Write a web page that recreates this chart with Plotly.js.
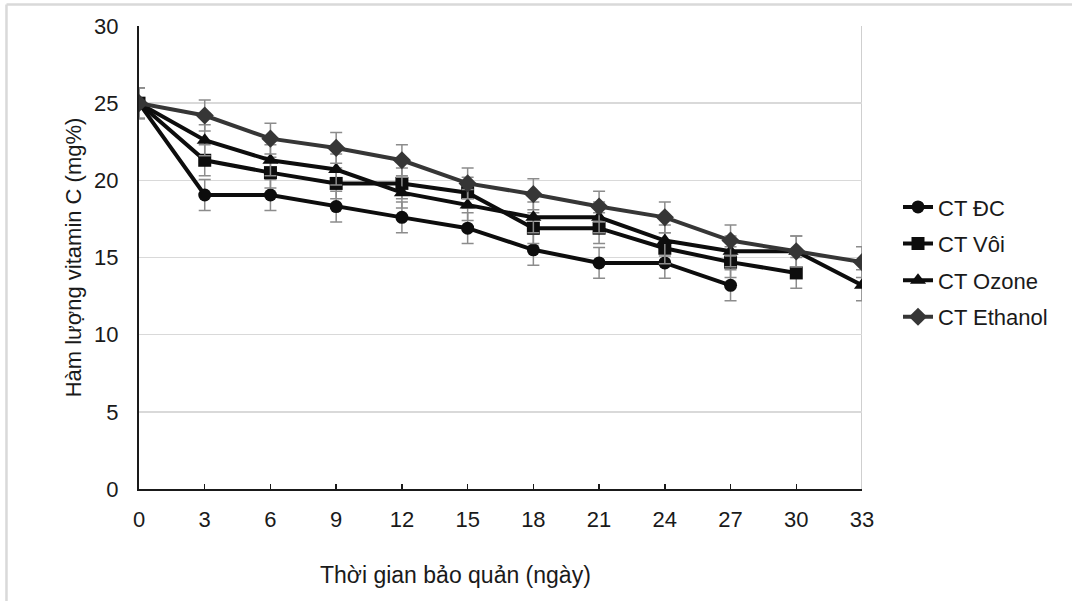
<!DOCTYPE html>
<html>
<head>
<meta charset="utf-8">
<script src="https://cdn.plot.ly/plotly-3.0.1.min.js"></script>
<style>
html,body{margin:0;padding:0;background:#fff;}
#chart{width:1072px;height:601px;}
</style>
</head>
<body>
<div id="chart"></div>
<script>
// Storage time (days)
const days = [0, 3, 6, 9, 12, 15, 18, 21, 24, 27, 30, 33];
const tickLabels = ["0", "3", "6", "9", "12", "15", "18", "21", "24", "27", "30", "33"];

// Vitamin C content (mg%) per treatment
const ctDC      = [25.0, 19.05, 19.05, 18.3, 17.6, 16.9, 15.5, 14.65, 14.65, 13.2];
const ctVoi     = [25.0, 21.3, 20.5, 19.8, 19.8, 19.2, 16.9, 16.9, 15.6, 14.7, 14.0];
const ctOzone   = [25.0, 22.6, 21.3, 20.7, 19.2, 18.4, 17.6, 17.6, 16.1, 15.4, 15.4, 13.2];
const ctEthanol = [25.0, 24.2, 22.7, 22.1, 21.3, 19.8, 19.1, 18.3, 17.6, 16.1, 15.4, 14.7];

// Error bar half-widths (mg%)
const errDC      = [1.0, 1.0, 1.0, 1.0, 1.0, 1.0, 1.0, 1.0, 1.0, 1.0];
const errVoi     = [1.0, 1.0, 1.0, 1.0, 1.0, 1.0, 1.0, 1.0, 1.0, 1.0, 1.0];
const errOzone   = [1.0, 1.0, 1.0, 1.0, 1.0, 1.0, 1.0, 1.0, 1.0, 1.0, 1.0, 1.0];
const errEthanol = [1.0, 1.0, 1.0, 1.0, 1.0, 1.0, 1.0, 1.0, 1.0, 1.0, 1.0, 1.0];

const seriesNames = ["CT ĐC", "CT Vôi", "CT Ozone", "CT Ethanol"];

const FONT = "Liberation Sans, Arial, sans-serif";
const TXT = "#1a1a1a";

function mk(name, y, err, symbol, color, msize, group) {
  return {
    type: "scatter", mode: "lines+markers", name: name,
    x: days.slice(0, y.length), y: y,
    line: {color: color, width: 4},
    marker: {symbol: symbol, size: msize, color: color},
    error_y: {type: "data", array: err, visible: true, color: "#8c8c8c", thickness: 1.5, width: 6},
    legendgroup: group
  };
}

const traces = [
  mk(seriesNames[0], ctDC, errDC, "circle", "#0d0d0d", 13, "g1"),
  mk(seriesNames[1], ctVoi, errVoi, "square", "#0d0d0d", 13, "g2"),
  mk(seriesNames[2], ctOzone, errOzone, "triangle-up", "#0d0d0d", 14, "g3"),
  mk(seriesNames[3], ctEthanol, errEthanol, "diamond", "#363636", 14, "g4")
];

const layout = {
  width: 1072, height: 601,
  margin: {l: 139, r: 210, t: 26, b: 112},
  paper_bgcolor: "#ffffff", plot_bgcolor: "#ffffff",
  font: {family: FONT, size: 22, color: TXT},
  showlegend: true,
  legend: {
    x: 1.0498, xanchor: "left", y: 0.49, yanchor: "middle",
    font: {family: FONT, size: 22, color: TXT},
    traceorder: "grouped", tracegroupgap: 5,
    bgcolor: "rgba(0,0,0,0)", itemwidth: 30
  },
  xaxis: {
    type: "linear", range: [0, 33],
    tickvals: days, ticktext: tickLabels,
    ticks: "inside", ticklen: 5, tickwidth: 1.5, tickcolor: "#1a1a1a",
    ticklabelstandoff: 10,
    showline: true, linecolor: "#1a1a1a", linewidth: 2,
    showgrid: false, zeroline: false,
    tickfont: {family: FONT, size: 22, color: TXT},
    fixedrange: true
  },
  yaxis: {
    range: [0, 30], dtick: 5, tick0: 0,
    ticks: "", ticklabelstandoff: 14,
    showline: true, linecolor: "#1a1a1a", linewidth: 2,
    showgrid: true, gridcolor: "#d9d9d9", gridwidth: 1.5,
    zeroline: false,
    tickfont: {family: FONT, size: 22, color: TXT},
    title: {text: "Hàm lượng vitamin C (mg%)", font: {family: FONT, size: 22, color: TXT}, standoff: 6},
    fixedrange: true
  },
  annotations: [
    {
      text: "Thời gian bảo quản (ngày)", xref: "paper", yref: "paper",
      x: (455 - 139) / 723, y: (489 - 575) / 463,
      xanchor: "center", yanchor: "middle", showarrow: false,
      font: {family: FONT, size: 23, color: TXT}
    }
  ],
  shapes: [
    // plot area right border
    {type: "line", xref: "x", yref: "y", x0: 33, x1: 33, y0: 0, y1: 30, line: {color: "#bfbfbf", width: 1.5}, layer: "below"},
    // chart area border (top and left)
    {type: "line", xref: "paper", yref: "paper", x0: -0.1833, x1: 1.2905, y0: 1.0464, y1: 1.0464, line: {color: "#d9d9d9", width: 2.5}},
    {type: "line", xref: "paper", yref: "paper", x0: -0.1833, x1: -0.1833, y0: 1.0464, y1: -0.2419, line: {color: "#d9d9d9", width: 2.5}}
  ]
};

Plotly.newPlot("chart", traces, layout, {displayModeBar: false, staticPlot: true});
</script>
</body>
</html>
